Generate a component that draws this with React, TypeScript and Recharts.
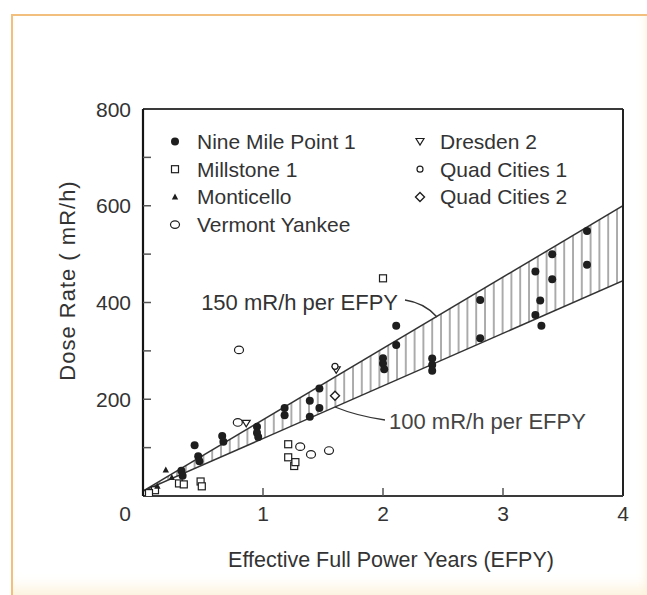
import React from 'react';
import { ComposedChart, Scatter, Area, XAxis, YAxis, Legend, ReferenceDot, ReferenceLine } from 'recharts';

// ---- data ----
const xTicks = [0, 1, 2, 3, 4];
const yTicks = [100, 200, 300, 400, 500, 600, 700, 800];
const yLabelled = [200, 400, 600, 800];

const bandX = [0, 4];
const bandLow = [10, 445];
const bandHigh = [10, 600];

const nineMileX = [0.32, 0.33, 0.43, 0.46, 0.47, 0.66, 0.67, 0.95, 0.95, 0.96, 1.18, 1.18, 1.39, 1.39, 1.47, 1.47, 2.0, 2.0, 2.01, 2.11, 2.11, 2.41, 2.41, 2.41, 2.81, 2.81, 3.27, 3.27, 3.31, 3.32, 3.41, 3.41, 3.7, 3.7];
const nineMileY = [52, 42, 105, 82, 72, 124, 112, 143, 131, 122, 182, 167, 197, 164, 222, 182, 285, 274, 262, 352, 312, 284, 271, 259, 405, 326, 464, 374, 404, 352, 500, 448, 548, 478];

const millstoneX = [2.0, 1.21, 1.21, 1.26, 1.27, 0.3, 0.34, 0.48, 0.49, 0.1, 0.05];
const millstoneY = [450, 107, 80, 62, 70, 26, 24, 30, 20, 12, 6];

const monticelloX = [0.19, 0.24, 0.12];
const monticelloY = [54, 38, 20];

const vermontX = [0.8, 0.79, 1.31, 1.4, 1.55];
const vermontY = [302, 152, 102, 86, 94];

const dresdenX = [0.86, 1.61];
const dresdenY = [150, 261];

const quad1X = [1.6];
const quad1Y = [268];

const quad2X = [1.6];
const quad2Y = [207];

const seriesNames = ['Nine Mile Point 1', 'Millstone 1', 'Monticello', 'Vermont Yankee', 'Dresden 2', 'Quad Cities 1', 'Quad Cities 2'];
const seriesKinds = ['dot', 'square', 'tri', 'circle', 'itri', 'smallcircle', 'diamond'];

const xTitle = 'Effective Full Power Years (EFPY)';
const yTitle = 'Dose Rate ( mR/h)';

const annotations = [
  { x: 2.45, y: 370, text: '150 mR/h per EFPY', side: 'upper' },
  { x: 1.6, y: 184, text: '100 mR/h per EFPY', side: 'lower' },
];

const zip = (xs: number[], ys: number[]) => xs.map((x, i) => ({ x, y: ys[i] }));
const bandData = bandX.map((x, i) => ({ x, range: [bandLow[i], bandHigh[i]] }));

const FONT = "'Liberation Sans', Arial, Helvetica, sans-serif";
const TEXT = '#333';
const INK = '#1e1e1e';

const Marker = ({ kind, cx, cy }: { kind: string; cx: number; cy: number }) => {
  switch (kind) {
    case 'dot':
      return <circle cx={cx} cy={cy} r={4} fill={INK} />;
    case 'square':
      return <rect x={cx - 3.5} y={cy - 3.5} width={7} height={7} fill="#fff" stroke={INK} strokeWidth={1.2} />;
    case 'tri':
      return <polygon points={`${cx},${cy - 3.5} ${cx + 3.2},${cy + 2.5} ${cx - 3.2},${cy + 2.5}`} fill={INK} />;
    case 'circle':
      return <ellipse cx={cx} cy={cy} rx={4.5} ry={3.8} fill="#fff" stroke={INK} strokeWidth={1.2} />;
    case 'itri':
      return <polygon points={`${cx - 4},${cy - 3} ${cx + 4},${cy - 3} ${cx},${cy + 3.5}`} fill="#fff" stroke={INK} strokeWidth={1.2} />;
    case 'smallcircle':
      return <circle cx={cx} cy={cy} r={3} fill="#fff" stroke={INK} strokeWidth={1.2} />;
    case 'diamond':
      return <polygon points={`${cx},${cy - 4.5} ${cx + 4.5},${cy} ${cx},${cy + 4.5} ${cx - 4.5},${cy}`} fill="#fff" stroke={INK} strokeWidth={1.4} />;
    default:
      return null;
  }
};

const shapeFor = (kind: string) => (p: any) => <Marker kind={kind} cx={p.cx} cy={p.cy} />;

const XTick = (props: any) => {
  const { x, y, payload } = props;
  const v = payload.value;
  const inner = v > 0 && v < 4;
  const tx = v === 0 ? x - 18 : x;
  return (
    <g>
      {inner && <line x1={x} x2={x} y1={y} y2={y - 8} stroke="#555" strokeWidth={1.5} />}
      <text x={tx} y={y + 25} textAnchor="middle" fontSize={21} fontFamily={FONT} fill={TEXT}>
        {v}
      </text>
    </g>
  );
};

const YTick = (props: any) => {
  const { x, y, payload } = props;
  const v = payload.value;
  return (
    <g>
      {v < 800 && <line x1={x} x2={x + 8} y1={y} y2={y} stroke="#555" strokeWidth={1.5} />}
      {yLabelled.includes(v) && (
        <text x={x - 12} y={y + 7.5} textAnchor="end" fontSize={21} fontFamily={FONT} fill={TEXT}>
          {v}
        </text>
      )}
    </g>
  );
};

const XTitle = (props: any) => {
  const vb = props.viewBox || { x: 143, y: 496, width: 480, height: 40 };
  const cx = vb.x + vb.width / 2 + 8;
  const y = vb.y + 71;
  return (
    <text x={cx} y={y} textAnchor="middle" fontSize={21.5} fontFamily={FONT} fill={TEXT}>
      {xTitle}
    </text>
  );
};

const YTitle = (props: any) => {
  const vb = props.viewBox || { x: 83, y: 109, width: 60, height: 387 };
  const x = vb.x - 8;
  const y = vb.y + vb.height / 2 - 22;
  return (
    <text x={x} y={y} transform={`rotate(-90 ${x} ${y})`} textAnchor="middle" fontSize={22} letterSpacing={1} fontFamily={FONT} fill={TEXT}>
      {yTitle}
    </text>
  );
};

const LegendContent = () => {
  const rows = [141.5, 169.2, 196.9, 224.6];
  return (
    <svg width={647} height={595} style={{ position: 'absolute', left: 0, top: 0 }}>
      {seriesNames.map((name, i) => {
        const col = i < 4 ? 0 : 1;
        const row = i < 4 ? i : i - 4;
        const mx = col === 0 ? 175 : 420;
        const tx = col === 0 ? 197 : 440;
        const cy = rows[row];
        return (
          <g key={name}>
            <Marker kind={seriesKinds[i]} cx={mx} cy={cy} />
            <text x={tx} y={cy + 7.5} fontSize={21} fontFamily={FONT} fill={TEXT}>
              {name}
            </text>
          </g>
        );
      })}
    </svg>
  );
};

const AnnotationShape = (a: { text: string; side: string }) => (p: any) => {
  const { cx, cy } = p;
  if (a.side === 'upper') {
    return (
      <g>
        <path d={`M ${cx - 32} ${cy - 17} Q ${cx - 12} ${cy - 14} ${cx} ${cy}`} fill="none" stroke="#333" strokeWidth={1.3} />
        <text x={cx - 39} y={cy - 7.5} textAnchor="end" fontSize={22} fontFamily={FONT} fill={TEXT}>
          {a.text}
        </text>
      </g>
    );
  }
  return (
    <g>
      <path d={`M ${cx + 50} ${cy + 13} Q ${cx + 22} ${cy + 9} ${cx} ${cy}`} fill="none" stroke="#333" strokeWidth={1.3} />
      <text x={cx + 54} y={cy + 22} textAnchor="start" fontSize={22} fontFamily={FONT} fill="#444">
        {a.text}
      </text>
    </g>
  );
};

export default function App() {
  return (
    <div style={{ position: 'absolute', left: 0, top: 0, width: 647, height: 595, background: '#fff', overflow: 'hidden' }}>
      <div
        style={{
          position: 'absolute',
          left: 11,
          top: 14,
          width: 640,
          height: 585,
          borderTop: '2px solid #f2c07c',
          borderLeft: '2px solid #f2c07c',
          background: '#fff',
          boxShadow: 'inset 0 -22px 16px -10px #fcf1d8, inset -14px 0 12px -8px #fcf1d8',
        }}
      />
      <div style={{ position: 'absolute', left: 0, top: 0 }}>
        <ComposedChart width={647} height={595} data={bandData} margin={{ top: 109, right: 24, bottom: 59, left: 83 }}>
          <defs>
            <pattern id="hatch" width={8.8} height={10} patternUnits="userSpaceOnUse">
              <line x1={1} y1={0} x2={1} y2={10} stroke="#5a5a5a" strokeWidth={1} />
            </pattern>
          </defs>
          <XAxis
            dataKey="x"
            type="number"
            domain={[0, 4]}
            ticks={xTicks}
            tickSize={0}
            tickMargin={0}
            tick={<XTick />}
            axisLine={{ stroke: '#3a3a3a', strokeWidth: 2 }}
            height={40}
            allowDataOverflow
            label={<XTitle />}
          />
          <YAxis
            type="number"
            domain={[0, 800]}
            ticks={yTicks}
            tickSize={0}
            tickMargin={0}
            tick={<YTick />}
            axisLine={{ stroke: '#151515', strokeWidth: 2.2 }}
            width={60}
            allowDataOverflow
            label={<YTitle />}
          />
          <ReferenceLine y={800} stroke="#3a3a3a" strokeWidth={2} />
          <ReferenceLine x={4} stroke="#222" strokeWidth={2} />
          <Area
            type="linear"
            dataKey="range"
            fill="url(#hatch)"
            fillOpacity={1}
            stroke="#333"
            strokeWidth={1.5}
            isAnimationActive={false}
            legendType="none"
            activeDot={false}
            dot={false}
          />
          <Scatter name={seriesNames[0]} data={zip(nineMileX, nineMileY)} dataKey="y" shape={shapeFor('dot')} isAnimationActive={false} />
          <Scatter name={seriesNames[1]} data={zip(millstoneX, millstoneY)} dataKey="y" shape={shapeFor('square')} isAnimationActive={false} />
          <Scatter name={seriesNames[2]} data={zip(monticelloX, monticelloY)} dataKey="y" shape={shapeFor('tri')} isAnimationActive={false} />
          <Scatter name={seriesNames[3]} data={zip(vermontX, vermontY)} dataKey="y" shape={shapeFor('circle')} isAnimationActive={false} />
          <Scatter name={seriesNames[4]} data={zip(dresdenX, dresdenY)} dataKey="y" shape={shapeFor('itri')} isAnimationActive={false} />
          <Scatter name={seriesNames[5]} data={zip(quad1X, quad1Y)} dataKey="y" shape={shapeFor('smallcircle')} isAnimationActive={false} />
          <Scatter name={seriesNames[6]} data={zip(quad2X, quad2Y)} dataKey="y" shape={shapeFor('diamond')} isAnimationActive={false} />
          {annotations.map((a) => (
            <ReferenceDot key={a.text} x={a.x} y={a.y} r={0} shape={AnnotationShape(a)} />
          ))}
          <Legend
            layout="horizontal"
            verticalAlign="middle"
            align="center"
            content={<LegendContent />}
            wrapperStyle={{ position: 'absolute', left: 0, top: 0, width: 647, height: 595, pointerEvents: 'none' }}
          />
        </ComposedChart>
      </div>
    </div>
  );
}
